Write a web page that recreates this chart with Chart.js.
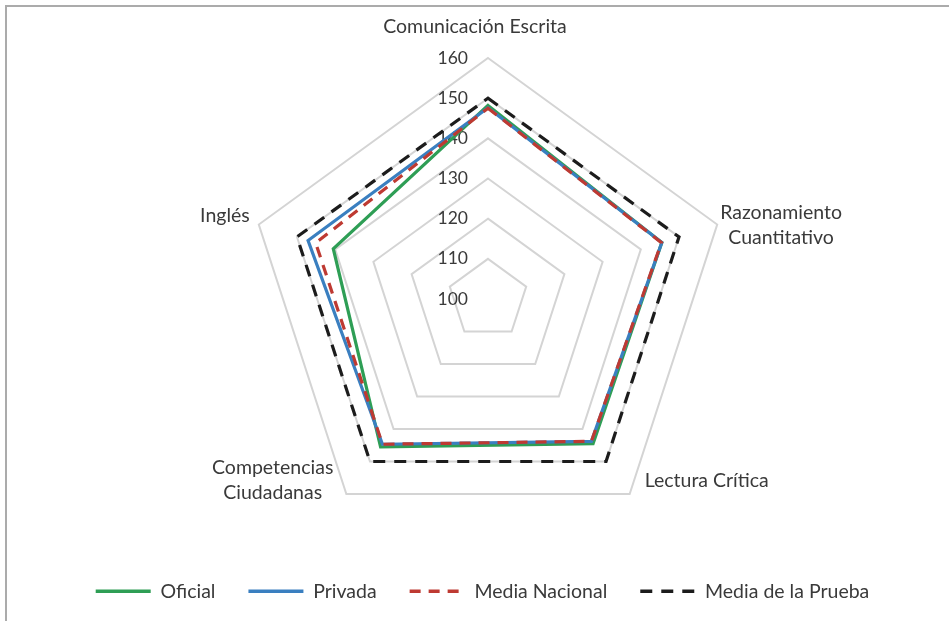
<!DOCTYPE html>
<html>
<head>
<meta charset="utf-8">
<script src="https://cdn.jsdelivr.net/npm/chart.js@4/dist/chart.umd.min.js"></script>
<style>
  html, body { margin: 0; padding: 0; background: #ffffff; }
  .frame {
    position: absolute; left: 5px; top: 5px; width: 960px; height: 640px;
    border-top: 2px solid #ababab; border-left: 2px solid #ababab;
  }
  #chart { position: absolute; left: 0; top: 0; }
</style>
</head>
<body>
<div class="frame"></div>
<canvas id="chart" width="949" height="621"></canvas>
<script>
// axis categories (clockwise from the top)
const categories = [
  'Comunicación Escrita',
  ['Razonamiento', 'Cuantitativo'],
  'Lectura Crítica',
  ['Competencias', 'Ciudadanas'],
  'Inglés'
];
const oficial = [148.2, 145.5, 144.5, 145.5, 140.5];
const privada = [147.6, 145.5, 143.8, 144.7, 147.1];
const mediaNacional = [147.5, 145.4, 143.8, 144.7, 145.1];
const mediaPrueba = [150, 150, 150, 150, 150];
const tickLabels = [100, 110, 120, 130, 140, 150, 160];

const textColor = '#3a3a3a';
const font = 'Lato, "Open Sans", sans-serif';

// Excel-like placement of the category labels around the pentagon
const labelPlacement = [
  { align: 'center', dx: -13, dy: -31 },
  { align: 'left', dx: 3, dy: 1 },
  { align: 'left', dx: 15, dy: -13 },
  { align: 'right', dx: -13, dy: -14 },
  { align: 'right', dx: -9, dy: -9 }
];

const radarText = {
  id: 'radarText',
  beforeDatasetsDraw(chart) {
    const scale = chart.scales.r;
    const ctx = chart.ctx;
    ctx.save();
    ctx.fillStyle = textColor;
    ctx.textBaseline = 'middle';

    // tick labels to the left of the vertical axis
    ctx.font = '17.5px ' + font;
    ctx.textAlign = 'right';
    tickLabels.forEach(v => {
      const p = scale.getPointPosition(0, scale.getDistanceFromCenterForValue(v));
      ctx.fillText(String(v), p.x - 20, p.y);
    });

    // category labels
    ctx.font = '19.5px ' + font;
    ctx.textAlign = 'center';
    const lineH = 25;
    categories.forEach((lab, i) => {
      const lines = Array.isArray(lab) ? lab : [lab];
      const p = scale.getPointPosition(i, scale.drawingArea);
      const w = Math.max(...lines.map(l => ctx.measureText(l).width));
      const pl = labelPlacement[i];
      let cx = p.x + pl.dx;
      if (pl.align === 'left') cx += w / 2;
      if (pl.align === 'right') cx -= w / 2;
      const top = p.y + pl.dy - (lines.length - 1) * lineH / 2;
      lines.forEach((l, k) => ctx.fillText(l, cx, top + k * lineH));
    });
    ctx.restore();
  }
};

function series(label, data, color, dash, order) {
  return {
    label: label,
    data: data,
    borderColor: color,
    backgroundColor: color,
    borderWidth: 3.2,
    borderDash: dash,
    borderJoinStyle: 'miter',
    pointRadius: 0,
    pointHoverRadius: 0,
    fill: false,
    tension: 0,
    order: order
  };
}

new Chart(document.getElementById('chart'), {
  type: 'radar',
  data: {
    labels: categories,
    datasets: [
      series('Oficial', oficial, '#2E9E55', [], 4),
      series('Privada', privada, '#3A7FC0', [], 3),
      series('Media Nacional', mediaNacional, '#BE3A32', [11, 8], 2),
      series('Media de la Prueba', mediaPrueba, '#1C1C1C', [12, 9], 1)
    ]
  },
  options: {
    responsive: false,
    devicePixelRatio: 1,
    animation: false,
    layout: { padding: { left: 16, bottom: 10 } },
    plugins: {
      tooltip: { enabled: false },
      legend: {
        position: 'bottom',
        labels: {
          usePointStyle: true,
          pointStyle: 'line',
          pointStyleWidth: 55,
          boxHeight: 19,
          padding: 33,
          color: textColor,
          font: { family: font, size: 19.5 },
          sort: (a, b) => a.datasetIndex - b.datasetIndex,
          generateLabels(chart) {
            const items = Chart.defaults.plugins.legend.labels.generateLabels(chart);
            items.forEach(it => {
              const ds = chart.data.datasets[it.datasetIndex];
              it.lineDash = ds.borderDash;
              it.strokeStyle = ds.borderColor;
              it.lineWidth = 3.5;
            });
            return items;
          }
        }
      }
    },
    scales: {
      r: {
        min: 100,
        max: 160,
        ticks: { stepSize: 10, display: false },
        grid: { color: '#d4d4d4', lineWidth: 2, circular: false },
        angleLines: { display: false },
        pointLabels: { display: false },
        afterFit(scale) {
          scale.xCenter = 488;
          scale.yCenter = 299;
          scale.drawingArea = 241;
        }
      }
    }
  },
  plugins: [radarText]
});
</script>
</body>
</html>
